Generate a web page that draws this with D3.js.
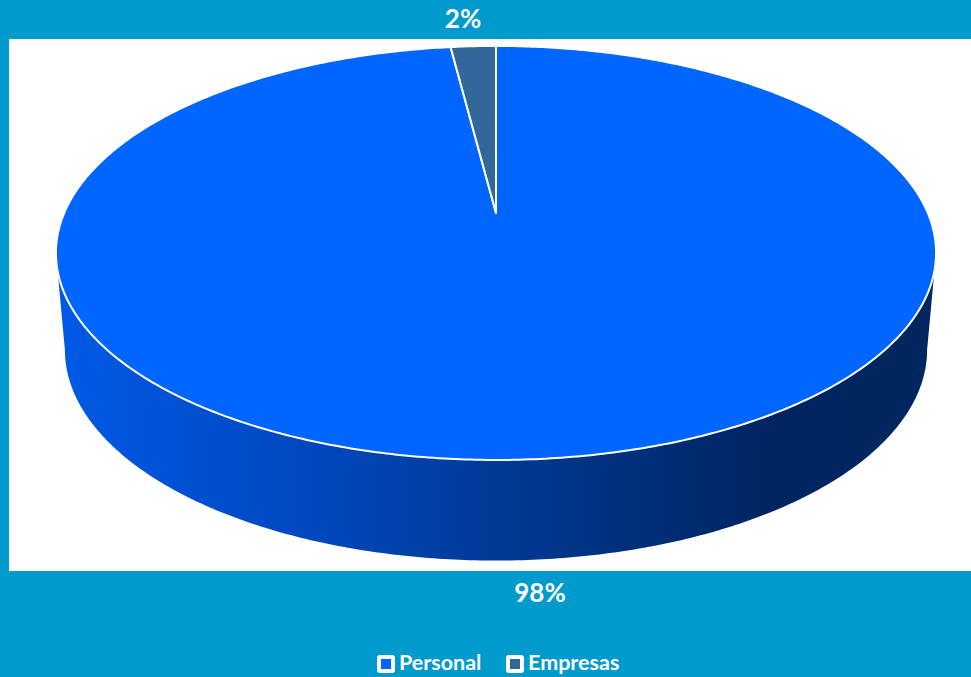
<!DOCTYPE html>
<html>
<head>
<meta charset="utf-8">
<script src="https://cdn.jsdelivr.net/npm/d3@7"></script>
<style>
  body { margin: 0; background: #009acd; }
  svg { display: block; }
</style>
</head>
<body>
<div id="chart"></div>
<script>
const categories = ["Personal", "Empresas"];
const values = [98, 2];
const labels = ["98%", "2%"];
const colors = ["#0066ff", "#336699"];

const W = 971, H = 677;
const svg = d3.select("#chart").append("svg").attr("width", W).attr("height", H);

// plot area
svg.append("rect").attr("x", 9).attr("y", 39).attr("width", W - 9).attr("height", 532).attr("fill", "#fff");

// perspective projection of the disk: u across, v depth (1 = far), z 0 top / 1 bottom
const cx = 496, k = 0.193;
const face = [
  { A: 431.8, B: 199.3, cy: 213 },
  { A: 423, B: 203, cy: 309 }
];
function proj(a, z, r = 1) {
  const u = Math.sin(a) * r, v = Math.cos(a) * r;
  const f = face[z], w = 1 + k * v;
  return [cx + f.A * u / w, f.cy - f.B * v / w];
}
function arcPts(a0, a1, z) {
  const n = Math.max(2, Math.ceil(Math.abs(a1 - a0) / 0.01));
  return d3.range(n + 1).map(i => proj(a0 + (a1 - a0) * i / n, z));
}

const pie = d3.pie().sort(null).value(d => d)(values);

// side gradient
const grad = svg.append("defs").append("linearGradient")
  .attr("id", "side").attr("gradientUnits", "userSpaceOnUse")
  .attr("x1", 56).attr("x2", 937).attr("y1", 0).attr("y2", 0);
[[0, "#005ae6"], [0.3, "#0047bd"], [0.6, "#003384"], [0.82, "#002460"], [1, "#00275f"]]
  .forEach(([o, c]) => grad.append("stop").attr("offset", o).attr("stop-color", c));

// visible front wall
const s0 = Math.acos(-k), s1 = 2 * Math.PI - Math.acos(-k);
const wall = arcPts(s0, s1, 0).concat(arcPts(s1, s0, 1));
svg.append("path").attr("d", "M" + wall.join("L") + "Z").attr("fill", "url(#side)");

// top face slices
const c0 = proj(0, 0, 0);
svg.selectAll(".slice").data(pie).enter().append("path")
  .attr("d", d => "M" + [c0].concat(arcPts(d.startAngle, d.endAngle, 0)).join("L") + "Z")
  .attr("fill", (d, i) => colors[i])
  .attr("stroke", "#fff").attr("stroke-width", 2).attr("stroke-linejoin", "round");

// data labels
const font = "Lato, 'Open Sans', sans-serif";
svg.append("text").attr("x", 540).attr("y", 602).text(labels[0]);
svg.append("text").attr("x", 463).attr("y", 28).text(labels[1]);
svg.selectAll("text").attr("text-anchor", "middle").attr("fill", "#fff")
  .attr("font-family", font).attr("font-weight", "bold").attr("font-size", 26);

// legend
const leg = svg.append("g");
const legX = [377, 506];
categories.forEach((c, i) => {
  const g = leg.append("g").attr("transform", `translate(${legX[i]},655)`);
  g.append("rect").attr("width", 18).attr("height", 18).attr("rx", 3).attr("fill", "#fff");
  g.append("rect").attr("x", 4).attr("y", 4).attr("width", 10).attr("height", 10).attr("fill", colors[i]);
  g.append("text").attr("x", 22).attr("y", 15).text(c)
    .attr("fill", "#fff").attr("font-family", font).attr("font-weight", "bold").attr("font-size", 21.5);
});
</script>
</body>
</html>
